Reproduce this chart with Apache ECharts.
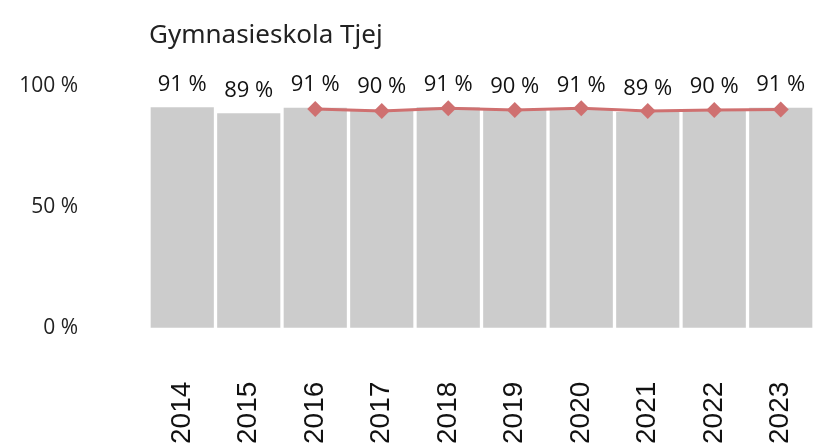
<!DOCTYPE html>
<html>
<head>
<meta charset="utf-8">
<script src="https://cdn.jsdelivr.net/npm/echarts@6/dist/echarts.min.js"></script>
<style>html,body{margin:0;padding:0;background:#fff}#c{width:814px;height:448px}</style>
</head>
<body>
<div id="c"></div>
<script>
const titleText = 'Gymnasieskola Tjej';
const categories = ['2014','2015','2016','2017','2018','2019','2020','2021','2022','2023'];
const barValues = [91.4, 88.9, 91.2, 90.4, 91.4, 90.4, 90.9, 89.4, 90.4, 91.2];
const lineValues = [null, null, 90.7, 89.8, 91.0, 90.3, 91.0, 89.8, 90.3, 90.5];
const yTicks = [0, 50, 100];

const chart = echarts.init(document.getElementById('c'));
chart.setOption({
  animation: false,
  title: {
    text: titleText, left: 144, top: 18,
    textStyle: { fontFamily: 'Noto Sans', fontSize: 26, fontWeight: 'normal', color: '#222' }
  },
  grid: { left: 149, right: 0, top: 86.5, bottom: 448 - 327.7 },
  xAxis: {
    type: 'category', data: categories,
    axisLine: { show: false }, axisTick: { show: false },
    axisLabel: { rotate: 90, margin: 54, fontFamily: 'Liberation Sans', fontSize: 28, color: '#111' }
  },
  yAxis: {
    type: 'value', min: 0, max: 100, interval: 50,
    splitLine: { show: false }, axisLine: { show: false }, axisTick: { show: false },
    axisLabel: { margin: 71, fontFamily: 'Open Sans', fontSize: 21, color: '#222',
      formatter: v => yTicks.includes(v) ? v + ' %' : '' }
  },
  series: [
    {
      type: 'bar', data: barValues, barCategoryGap: '5%',
      itemStyle: { color: '#cccccc' },
      label: { show: true, position: 'top', distance: 12, fontFamily: 'Open Sans', fontSize: 22, color: '#111',
        formatter: p => Math.round(p.value) + ' %' }
    },
    {
      type: 'line', data: lineValues, z: 5,
      symbol: 'diamond', symbolSize: 16,
      lineStyle: { color: '#cf7070', width: 3 },
      itemStyle: { color: '#cf7070' }
    }
  ]
});
</script>
</body>
</html>
